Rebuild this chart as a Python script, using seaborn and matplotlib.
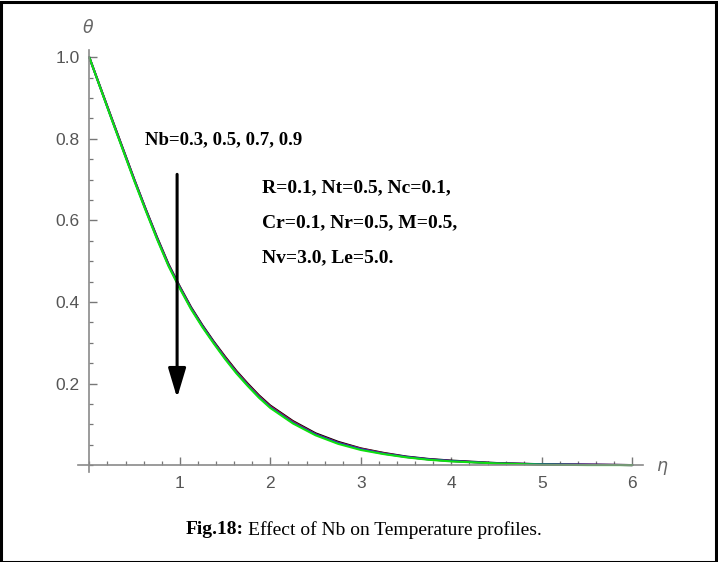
import matplotlib
matplotlib.use("Agg")
import matplotlib.pyplot as plt
from matplotlib.ticker import FixedLocator, MultipleLocator, FixedFormatter
from matplotlib.patches import Rectangle
import seaborn as sns
import pandas as pd

# Similarity variable and temperature profiles for each Nb value
eta = [0, 0.25, 0.5, 0.625, 0.75, 0.875, 1.0, 1.125, 1.25, 1.375, 1.5, 1.625,
       1.75, 1.875, 2.0, 2.25, 2.5, 2.75, 3.0, 3.25, 3.5, 3.75, 4.0, 4.5, 5.0, 5.5, 6.0]
theta_nb03 = [1.000, 0.849, 0.699, 0.627, 0.558, 0.493, 0.438, 0.387, 0.343, 0.303, 0.266, 0.231,
              0.200, 0.171, 0.146, 0.108, 0.078, 0.057, 0.041, 0.030, 0.021, 0.015, 0.011,
              0.005, 0.002, 0.001, 0.000]
theta_nb05 = [1.000, 0.848, 0.698, 0.626, 0.556, 0.491, 0.436, 0.385, 0.341, 0.301, 0.264, 0.229,
              0.198, 0.169, 0.144, 0.106, 0.076, 0.055, 0.040, 0.029, 0.020, 0.014, 0.010,
              0.004, 0.002, 0.001, 0.000]
theta_nb07 = [1.000, 0.847, 0.697, 0.625, 0.555, 0.490, 0.435, 0.384, 0.340, 0.300, 0.262, 0.227,
              0.196, 0.167, 0.142, 0.104, 0.075, 0.054, 0.039, 0.028, 0.020, 0.014, 0.010,
              0.004, 0.002, 0.001, 0.000]
theta_nb09 = [1.000, 0.846, 0.695, 0.623, 0.553, 0.488, 0.433, 0.382, 0.338, 0.298, 0.260, 0.225,
              0.194, 0.165, 0.140, 0.102, 0.073, 0.052, 0.037, 0.027, 0.019, 0.013, 0.009,
              0.004, 0.001, 0.000, 0.000]

nb_values = ["0.3", "0.5", "0.7", "0.9"]
line_colors = ["#000000", "#d01030", "#1030d0", "#10e010"]

x_ticks = [1, 2, 3, 4, 5, 6]
x_tick_labels = ["1", "2", "3", "4", "5", "6"]
y_ticks = [0.2, 0.4, 0.6, 0.8, 1.0]
y_tick_labels = ["0.2", "0.4", "0.6", "0.8", "1.0"]

frames = []
for nb, th in zip(nb_values, [theta_nb03, theta_nb05, theta_nb07, theta_nb09]):
    frames.append(pd.DataFrame({"eta": eta, "theta": th, "Nb": nb}))
df = pd.concat(frames, ignore_index=True)

sns.set_theme(style="white")
plt.rcParams["font.family"] = ["Liberation Sans", "DejaVu Sans"]

fig = plt.figure(figsize=(7.18, 5.62), dpi=100)
ax = fig.add_axes([78 / 718, 1 - 472 / 562, (643 - 78) / 718, (472 - 50) / 562])

sns.lineplot(data=df, x="eta", y="theta", hue="Nb", hue_order=nb_values,
             palette=line_colors, linewidth=1.5, legend=False, ax=ax)

ax.set_xlim(-0.125, 6.118)
ax.set_ylim(-0.017, 1.018)

# Axes through the origin
for side in ("top", "right"):
    ax.spines[side].set_visible(False)
ax.spines["left"].set_position(("data", 0))
ax.spines["bottom"].set_position(("data", 0))
for side in ("left", "bottom"):
    ax.spines[side].set_color("#8a8a8a")
    ax.spines[side].set_linewidth(1.2)

ax.xaxis.set_major_locator(FixedLocator(x_ticks))
ax.xaxis.set_major_formatter(FixedFormatter(x_tick_labels))
ax.xaxis.set_minor_locator(MultipleLocator(0.2))
ax.yaxis.set_major_locator(FixedLocator(y_ticks))
ax.yaxis.set_major_formatter(FixedFormatter(y_tick_labels))
ax.yaxis.set_minor_locator(MultipleLocator(0.05))

ax.tick_params(axis="both", which="both", direction="in", color="#777777",
               labelcolor="#555555", labelsize=12.5, bottom=True, left=True,
               top=False, right=False)
ax.tick_params(axis="both", which="major", length=5.8, width=1.0)
ax.tick_params(axis="both", which="minor", length=3.0, width=0.9)
ax.tick_params(axis="x", which="major", pad=8)
ax.tick_params(axis="y", which="major", pad=7)
ax.set_xlabel("")
ax.set_ylabel("")
ax.grid(False)

# Axis names at the ends of the axes
fig.text(88 / 718, 1 - 27 / 562, r"$\theta$", color="#666666", fontsize=12.5,
         ha="center", va="center")
fig.text(662 / 718, 1 - 468 / 562, r"$\eta$", color="#666666", fontsize=12.5,
         ha="center", va="center")

# Annotations
serif = ["Liberation Serif", "DejaVu Serif"]
ax.text(0.615, 0.797, "Nb=0.3, 0.5, 0.7, 0.9", fontfamily=serif, fontweight="bold",
        fontsize=13.5, ha="left", va="center", color="black")
ax.annotate("", xy=(0.97, 0.165), xytext=(0.97, 0.713),
            arrowprops=dict(arrowstyle="-|>,head_length=1.5,head_width=0.45",
                            color="black", lw=2.2, shrinkA=0, shrinkB=0))
params = ["R=0.1, Nt=0.5, Nc=0.1,", "Cr=0.1, Nr=0.5, M=0.5,", "Nv=3.0, Le=5.0."]
for i, line in enumerate(params):
    y_px = 188 + 35 * i
    fig.text(262 / 718, 1 - y_px / 562, line, fontfamily=serif, fontweight="bold",
             fontsize=14, ha="left", va="center", color="black")

# Caption
cap_y = 1 - 530 / 562
t1 = fig.text(186 / 718, cap_y, "Fig.18:", fontfamily=serif, fontweight="bold",
              fontsize=14, ha="left", va="center", color="black")
fig.canvas.draw()
bb = t1.get_window_extent()
fig.text(bb.x1 / 718 + 4 / 718, cap_y, "Effect of Nb on Temperature profiles.",
         fontfamily=serif, fontsize=14, ha="left", va="center", color="black")

# Frame around the whole figure
fig.patches.append(Rectangle((0.002, 0.0), 0.995, 0.996, transform=fig.transFigure,
                             fill=False, edgecolor="black", linewidth=2.2))

fig.savefig("out.png", dpi=100)
